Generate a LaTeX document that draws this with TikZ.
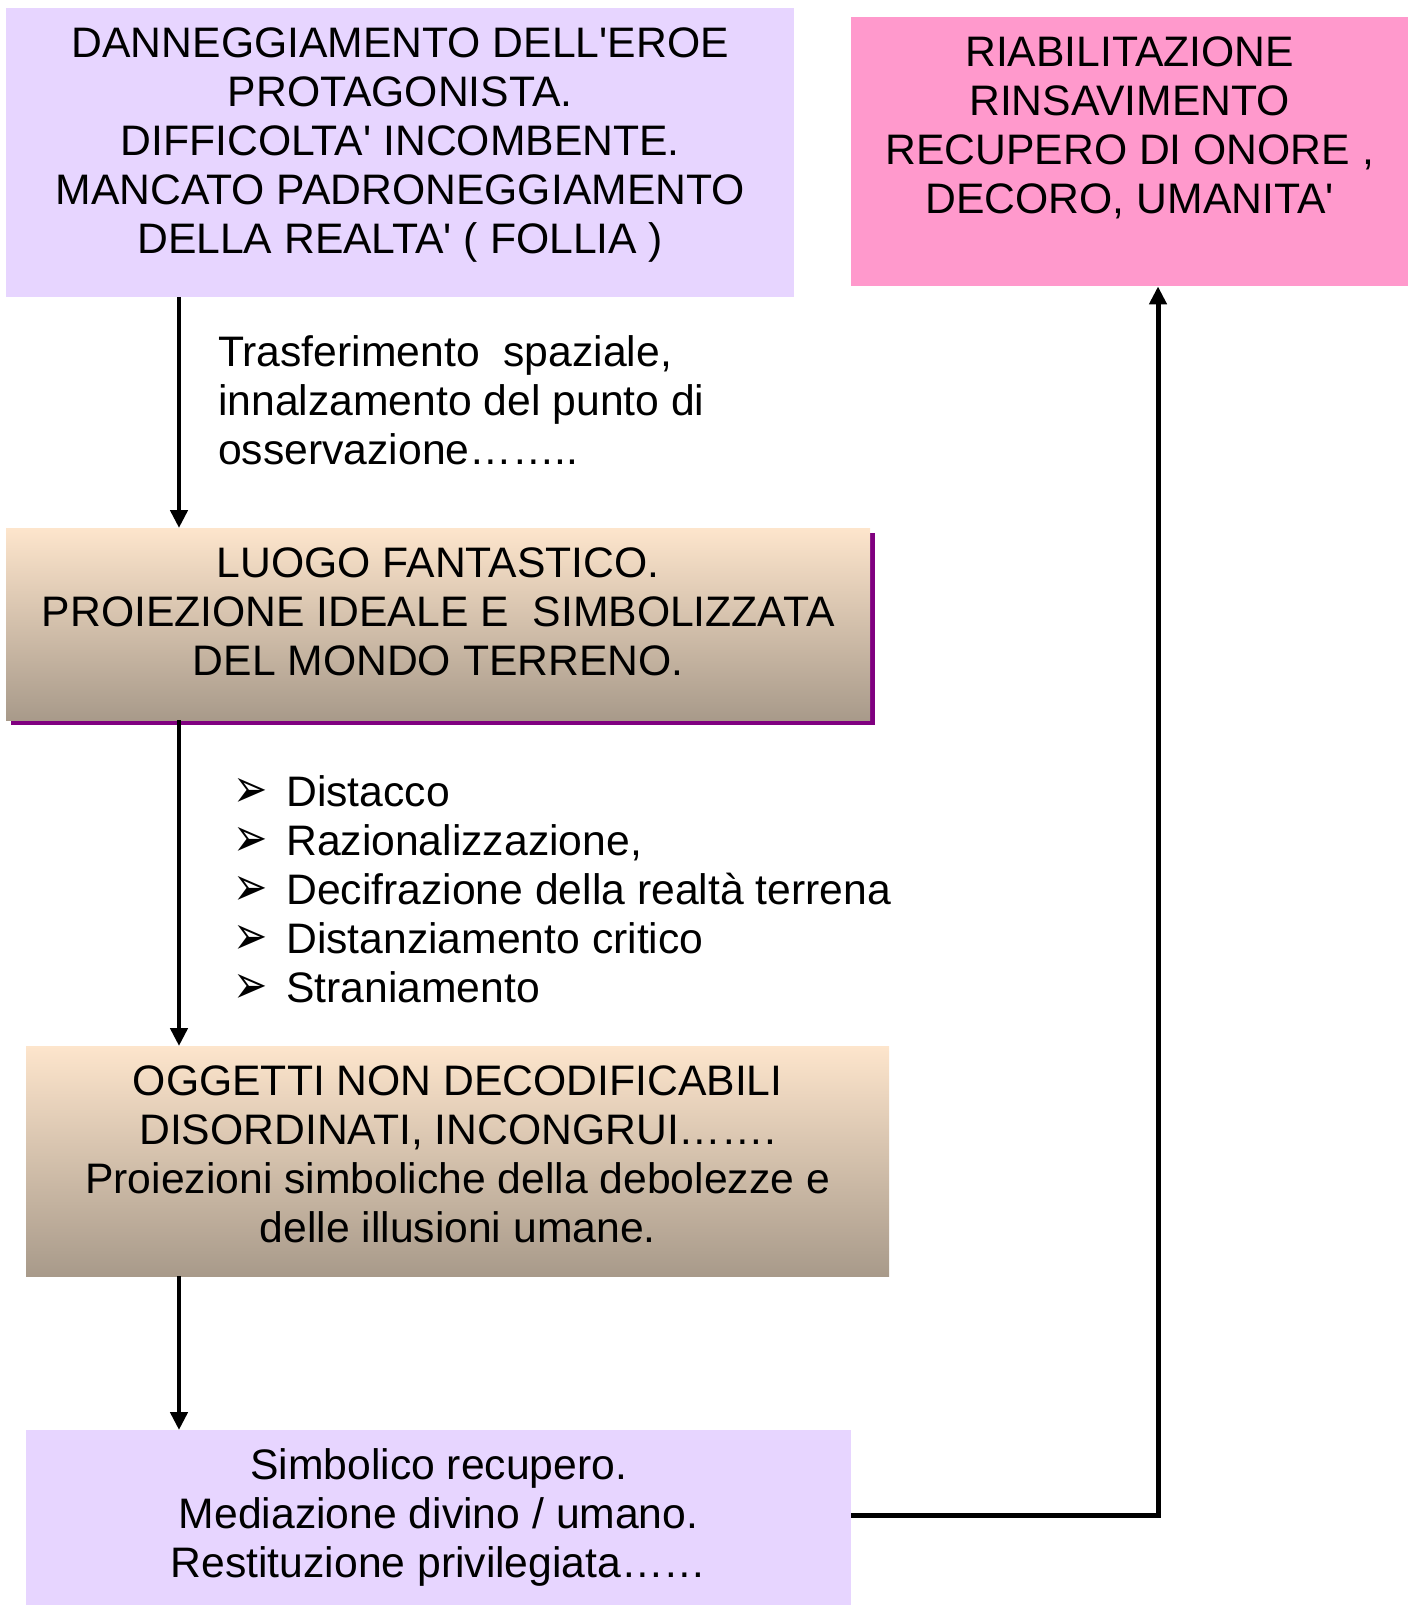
\documentclass[tikz,border=0pt]{standalone}
\usepackage{fontspec}
\usepackage{graphicx}
\setmainfont{Liberation Sans}
\newfontfamily\dingfont{DejaVu Sans}
\usetikzlibrary{arrows.meta,shadows}
\definecolor{lilla}{RGB}{231,213,255}
\definecolor{rosa}{RGB}{255,153,204}
\definecolor{pesca}{RGB}{253,229,204}
\definecolor{tortora}{RGB}{168,154,138}
\definecolor{viola}{RGB}{128,0,128}
\newcommand{\boxtxt}[3]{\parbox[c][#2pt][t]{#1pt}{\centering\vspace*{15pt}\strut #3}}
\newcommand{\punto}{\makebox[0pt][r]{\raisebox{-1pt}{\scalebox{1.05}[1.4]{\dingfont\fontsize{39}{39}\selectfont ➢}}\hspace{18pt}}}
\newcommand{\ap}{\textquotesingle}
\tikzset{
  box/.style={anchor=north west, inner sep=0pt, font=\fontsize{42.67}{49}\selectfont},
  scala/.style={box, top color=pesca, bottom color=tortora},
  testo/.style={anchor=base west, inner sep=0pt, font=\fontsize{42.67}{49}\selectfont},
  freccia/.style={line width=4.5pt, -{Triangle[width=17pt,length=18pt]}}
}
\begin{document}
\begin{tikzpicture}[x=1pt,y=-1pt]
\useasboundingbox (0,0) rectangle (1413,1605);
\node [box, fill=lilla] (danno) at (6,8) {\boxtxt{788}{289}{DANNEGGIAMENTO DELL\ap EROE\\PROTAGONISTA.\\DIFFICOLTA\ap{} INCOMBENTE.\\MANCATO PADRONEGGIAMENTO\\DELLA REALTA\ap{} ( FOLLIA )}};
\node [box, fill=rosa] (riabil) at (851,17) {\boxtxt{557}{269}{RIABILITAZIONE\\RINSAVIMENTO\\RECUPERO DI ONORE ,\\DECORO, UMANITA\ap}};
\node [scala, drop shadow={fill=viola, opacity=1, shadow xshift=5pt, shadow yshift=-5pt}] (luogo) at (6,528) {\boxtxt{864}{192}{LUOGO FANTASTICO.\\PROIEZIONE IDEALE E~~SIMBOLIZZATA\\DEL MONDO TERRENO.}};
\node [scala] (oggetti) at (26,1046) {\boxtxt{863}{230}{OGGETTI NON DECODIFICABILI\\DISORDINATI, INCONGRUI…….\\Proiezioni simboliche della debolezze e\\delle illusioni umane.}};
\node [box, fill=lilla] (recupero) at (26,1430) {\boxtxt{825}{175}{Simbolico recupero.\\Mediazione divino / umano.\\Restituzione privilegiata……}};
\node [testo] (trasf) at (218,366) {\parbox[t]{700pt}{\raggedright Trasferimento~~spaziale,\\innalzamento del punto di\\osservazione……..}};
\node [testo] (lista) at (286,806) {\parbox[t]{700pt}{\raggedright
\punto Distacco\\
\punto Razionalizzazione,\\
\punto Decifrazione della realtà terrena\\
\punto Distanziamento critico\\
\punto Straniamento}};
\coordinate (gomito) at (1158,1515);
\draw [freccia] (danno.south west -| 179,0) -- (luogo.north west -| 179,0);
\draw [freccia] (luogo.south west -| 179,0) -- (oggetti.north west -| 179,0);
\draw [freccia] (oggetti.south west -| 179,0) -- (recupero.north west -| 179,0);
\draw [freccia, line width=5pt] (recupero.east |- gomito) -- (gomito) -- (riabil.south west -| gomito);
\end{tikzpicture}
\end{document}
